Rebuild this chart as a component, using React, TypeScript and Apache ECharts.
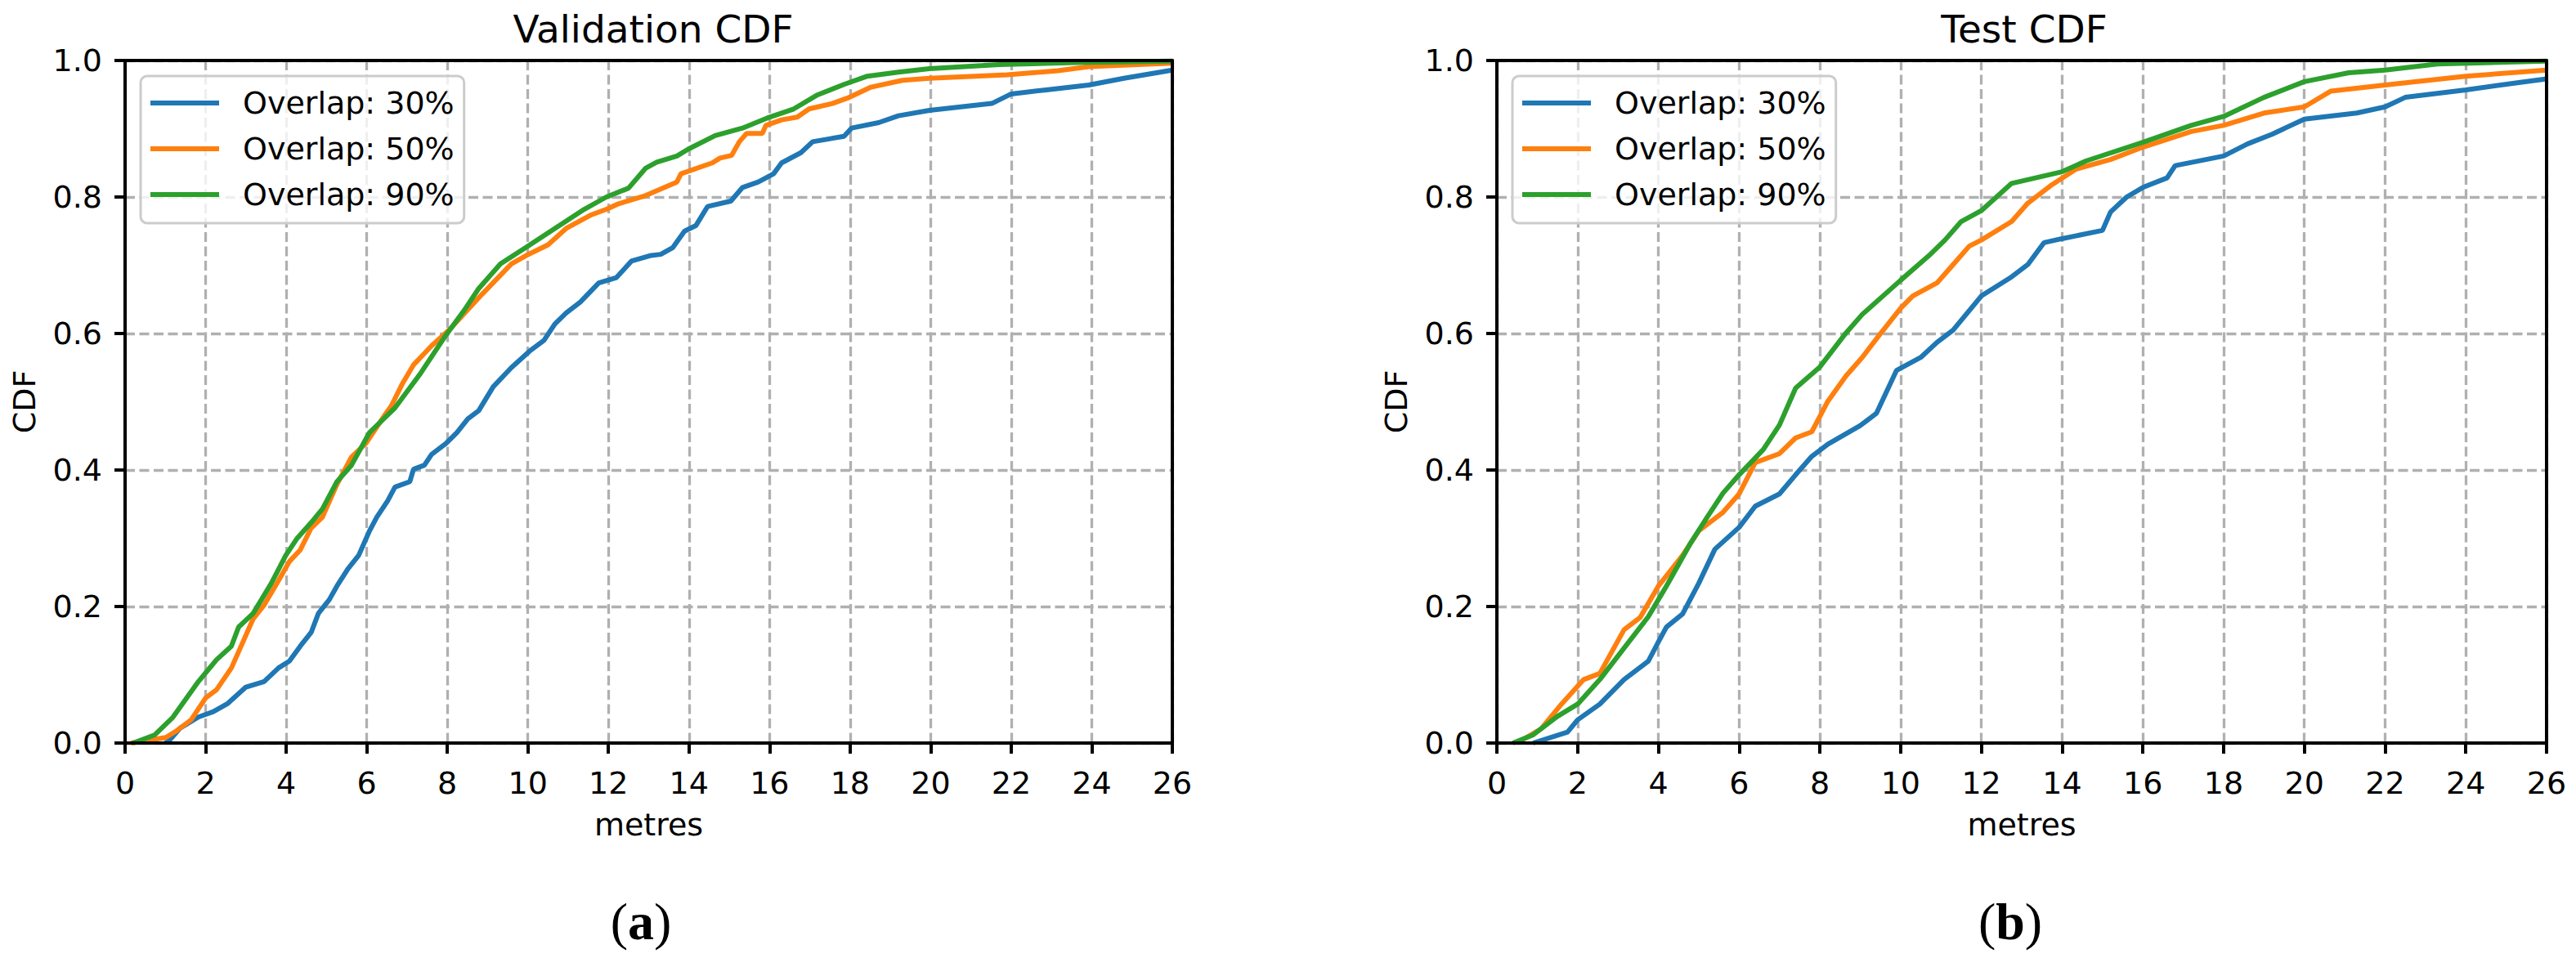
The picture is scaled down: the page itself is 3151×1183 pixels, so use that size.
import React, { useEffect, useRef } from "react";
import * as echarts from "echarts";

const seriesNames = ["Overlap: 30%", "Overlap: 50%", "Overlap: 90%"];
const seriesColors = ["#1f77b4", "#ff7f0e", "#2ca02c"];
const panelTitles = ["Validation CDF", "Test CDF"];
const panelCaptions = ["a", "b"];
const xTickMax = 26;
const xTickStep = 2;
const yTickStep = 0.2;

const val30: [number, number][] = [
  [1.0, 0], [1.1, 0.004], [1.37, 0.022], [1.82, 0.038], [2.19, 0.046], [2.55, 0.058], [3.0, 0.082],
  [3.45, 0.09], [3.81, 0.11], [4.08, 0.12], [4.35, 0.142], [4.62, 0.162], [4.8, 0.19], [5.07, 0.21],
  [5.26, 0.23], [5.53, 0.255], [5.8, 0.275], [6.07, 0.311], [6.25, 0.331], [6.52, 0.355], [6.7, 0.375],
  [7.07, 0.383], [7.16, 0.401], [7.43, 0.407], [7.61, 0.423], [7.97, 0.439], [8.24, 0.455], [8.51, 0.475],
  [8.78, 0.487], [9.14, 0.522], [9.59, 0.55], [10.04, 0.574], [10.4, 0.59], [10.67, 0.614], [10.95, 0.63],
  [11.3, 0.646], [11.76, 0.674], [12.2, 0.682], [12.57, 0.706], [13.03, 0.714], [13.3, 0.716], [13.6, 0.726],
  [13.89, 0.75], [14.17, 0.758], [14.46, 0.786], [15.04, 0.794], [15.33, 0.814], [15.72, 0.822], [16.1, 0.834],
  [16.3, 0.85], [16.78, 0.865], [17.07, 0.881], [17.85, 0.889], [18.04, 0.901], [18.71, 0.909], [19.2, 0.919],
  [19.97, 0.927], [21.52, 0.937], [22.0, 0.951], [22.87, 0.957], [23.93, 0.964], [24.8, 0.974], [26, 0.986],
];
const val50: [number, number][] = [
  [0.15, 0], [1.01, 0.008], [1.28, 0.018], [1.46, 0.026], [1.64, 0.034], [2.0, 0.066], [2.27, 0.078],
  [2.64, 0.11], [2.91, 0.146], [3.18, 0.182], [3.45, 0.202], [3.81, 0.238], [4.08, 0.266], [4.35, 0.283],
  [4.62, 0.315], [4.9, 0.331], [5.26, 0.379], [5.62, 0.419], [5.98, 0.439], [6.43, 0.479], [6.61, 0.494],
  [6.88, 0.526], [7.16, 0.554], [7.61, 0.582], [8.06, 0.606], [8.87, 0.658], [9.59, 0.702], [9.95, 0.714],
  [10.5, 0.73], [10.95, 0.754], [11.58, 0.774], [11.95, 0.782], [12.25, 0.79], [12.92, 0.802], [13.7, 0.822],
  [13.8, 0.834], [14.58, 0.85], [14.77, 0.857], [15.06, 0.861], [15.25, 0.881], [15.43, 0.893], [15.82, 0.893],
  [15.91, 0.905], [16.3, 0.913], [16.69, 0.917], [16.98, 0.929], [17.56, 0.937], [17.94, 0.945], [18.52, 0.961],
  [19.3, 0.971], [19.97, 0.974], [21.9, 0.979], [23.16, 0.985], [23.93, 0.991], [26, 0.996],
];
const val90: [number, number][] = [
  [0.2, 0], [0.74, 0.012], [1.19, 0.038], [1.82, 0.09], [2.27, 0.122], [2.64, 0.142], [2.82, 0.17],
  [3.18, 0.19], [3.63, 0.234], [3.99, 0.275], [4.26, 0.299], [4.62, 0.323], [4.9, 0.343], [5.26, 0.383],
  [5.62, 0.407], [6.07, 0.455], [6.7, 0.491], [7.34, 0.542], [7.97, 0.598], [8.42, 0.634], [8.78, 0.666],
  [9.32, 0.702], [9.95, 0.726], [10.67, 0.754], [11.4, 0.782], [11.95, 0.8], [12.5, 0.813], [12.92, 0.842],
  [13.2, 0.851], [13.7, 0.86], [13.98, 0.87], [14.65, 0.89], [15.33, 0.901], [16.0, 0.917], [16.6, 0.929],
  [17.17, 0.949], [17.85, 0.965], [18.43, 0.977], [19.2, 0.983], [19.97, 0.988], [21.7, 0.994], [23.65, 0.997],
  [26, 0.999],
];
const test30: [number, number][] = [
  [0.9, 0], [1.75, 0.016], [2.0, 0.034], [2.55, 0.057], [3.15, 0.093], [3.75, 0.12], [4.0, 0.148],
  [4.2, 0.17], [4.6, 0.189], [5.0, 0.234], [5.4, 0.284], [6.0, 0.316], [6.4, 0.347], [7.0, 0.365],
  [7.4, 0.393], [7.8, 0.42], [8.2, 0.438], [9.0, 0.465], [9.4, 0.483], [9.9, 0.546], [10.5, 0.565],
  [10.9, 0.587], [11.3, 0.605], [12.0, 0.655], [12.75, 0.683], [13.15, 0.701], [13.55, 0.733], [14.0, 0.739],
  [15.0, 0.751], [15.2, 0.778], [15.6, 0.8], [16.0, 0.814], [16.6, 0.828], [16.8, 0.846], [18.0, 0.86],
  [18.6, 0.878], [19.2, 0.892], [20.0, 0.914], [21.3, 0.923], [22.0, 0.932], [22.5, 0.946], [24.0, 0.957],
  [25.35, 0.968], [26, 0.973],
];
const test50: [number, number][] = [
  [0.5, 0], [1.1, 0.021], [1.6, 0.057], [2.15, 0.093], [2.55, 0.102], [3.15, 0.166], [3.55, 0.184],
  [4.0, 0.23], [4.6, 0.275], [5.0, 0.311], [5.6, 0.338], [6.0, 0.365], [6.4, 0.411], [7.0, 0.424],
  [7.4, 0.447], [7.8, 0.456], [8.2, 0.501], [8.65, 0.538], [9.05, 0.565], [9.45, 0.596], [10.0, 0.637],
  [10.3, 0.655], [10.9, 0.674], [11.3, 0.701], [11.7, 0.728], [12.0, 0.737], [12.75, 0.764], [13.15, 0.791],
  [13.75, 0.818], [14.35, 0.841], [15.2, 0.855], [16.0, 0.873], [17.2, 0.896], [18.0, 0.905], [19.0, 0.923],
  [20.0, 0.932], [20.65, 0.955], [22.0, 0.964], [24.0, 0.977], [26, 0.986],
];
const test90: [number, number][] = [
  [0.4, 0], [0.9, 0.012], [1.5, 0.039], [2.0, 0.057], [2.55, 0.093], [3.15, 0.139], [3.75, 0.185],
  [4.2, 0.23], [4.8, 0.293], [5.2, 0.33], [5.6, 0.366], [6.0, 0.393], [6.6, 0.43], [7.0, 0.466],
  [7.4, 0.52], [8.0, 0.551], [8.65, 0.601], [9.05, 0.628], [10.0, 0.678], [10.7, 0.714], [11.1, 0.737],
  [11.5, 0.764], [12.0, 0.78], [12.75, 0.82], [14.0, 0.837], [14.6, 0.853], [16.0, 0.88], [17.2, 0.905],
  [18.0, 0.918], [19.0, 0.946], [20.0, 0.969], [21.1, 0.982], [22.0, 0.986], [23.3, 0.995], [26, 0.999],
];

const panelData = [
  [val30, val50, val90],
  [test30, test50, test90],
];

const FONT = "DejaVu Sans";
const W = 3151;
const H = 1183;
const GRIDS = [
  { left: 153, top: 74, width: 1281, height: 835 },
  { left: 1831, top: 74, width: 1284, height: 835 },
];
const TITLE_X = [799, 2476];
const CAPTION_X = [784, 2459];

export default function App() {
  const ref = useRef<HTMLDivElement>(null);
  useEffect(() => {
    document.body.style.margin = "0";
    if (!ref.current) return;
    const chart = echarts.init(ref.current, null, { renderer: "svg" });
    const spine = { color: "#000", width: 4 };
    const gridLine = { show: true, lineStyle: { color: "#b0b0b0", width: 3.3, type: [12, 5.5] } };
    const xAxis: any[] = [];
    const yAxis: any[] = [];
    const series: any[] = [];
    const legend: any[] = [];
    GRIDS.forEach((g, gi) => {
      const base = gi * 3;
      xAxis.push(
        { gridIndex: gi, type: "value", min: 0, max: xTickMax, interval: xTickStep, position: "bottom",
          axisLine: { show: false }, axisTick: { show: false }, axisLabel: { show: false }, splitLine: gridLine, z: 0 },
        { gridIndex: gi, type: "value", min: 0, max: xTickMax, interval: xTickStep, position: "bottom",
          axisLine: { show: true, onZero: false, lineStyle: spine },
          axisTick: { show: true, length: 13, lineStyle: spine },
          axisLabel: { show: true, fontSize: 38, color: "#000", fontFamily: FONT, margin: 30 },
          splitLine: { show: false }, name: "metres", nameLocation: "middle", nameGap: 81,
          nameTextStyle: { fontSize: 38, color: "#000", fontFamily: FONT }, z: 5 },
        { gridIndex: gi, type: "value", min: 0, max: xTickMax, interval: xTickStep, position: "top",
          axisLine: { show: true, onZero: false, lineStyle: spine }, axisTick: { show: false },
          axisLabel: { show: false }, splitLine: { show: false }, z: 5 }
      );
      yAxis.push(
        { gridIndex: gi, type: "value", min: 0, max: 1, interval: yTickStep, position: "left",
          axisLine: { show: false }, axisTick: { show: false }, axisLabel: { show: false }, splitLine: gridLine, z: 0 },
        { gridIndex: gi, type: "value", min: 0, max: 1, interval: yTickStep, position: "left",
          axisLine: { show: true, onZero: false, lineStyle: spine },
          axisTick: { show: true, length: 13, lineStyle: spine },
          axisLabel: { show: true, fontSize: 38, color: "#000", fontFamily: FONT, margin: 28,
            formatter: (v: number) => v.toFixed(1) },
          splitLine: { show: false }, name: "CDF", nameLocation: "middle", nameGap: 104,
          nameTextStyle: { fontSize: 38, color: "#000", fontFamily: FONT }, z: 5 },
        { gridIndex: gi, type: "value", min: 0, max: 1, interval: yTickStep, position: "right",
          axisLine: { show: true, onZero: false, lineStyle: spine }, axisTick: { show: false },
          axisLabel: { show: false }, splitLine: { show: false }, z: 5 }
      );
      panelData[gi].forEach((d, si) => {
        series.push({
          type: "line", name: seriesNames[si], data: d, xAxisIndex: base, yAxisIndex: base,
          showSymbol: false, symbol: "none", color: seriesColors[si],
          lineStyle: { width: 6, color: seriesColors[si] }, z: 3,
        });
      });
      legend.push({
        data: seriesNames.map((n) => ({ name: n, icon: "rect" })), orient: "vertical", left: g.left + 19, top: 93,
        itemWidth: 84, itemHeight: 6, itemGap: 18,
        padding: [14, 12, 16, 12],
        backgroundColor: "rgba(255,255,255,0.8)", borderColor: "#cccccc", borderWidth: 3, borderRadius: 8,
        textStyle: { fontSize: 38, color: "#000", fontFamily: FONT, padding: [0, 0, 0, 24] },
        selectedMode: false,
      });
    });
    const graphic: any[] = [];
    panelTitles.forEach((t, i) => {
      graphic.push({ type: "text", x: TITLE_X[i], y: 35,
        style: { text: t, fontSize: 47, fontFamily: FONT, fill: "#000", align: "center", verticalAlign: "middle" } });
    });
    panelCaptions.forEach((c, i) => {
      graphic.push({ type: "text", x: CAPTION_X[i], y: 1127,
        style: { text: "{p|(}{b|" + c + "}{p|)}", align: "center", verticalAlign: "middle", fill: "#000",
          rich: {
            p: { fontSize: 64, fontFamily: "Liberation Serif", fill: "#000" },
            b: { fontSize: 64, fontFamily: "Liberation Serif", fontWeight: "bold", fill: "#000" },
          } } });
    });
    chart.setOption({
      animation: false,
      backgroundColor: "#fff",
      grid: GRIDS.map((g) => ({ ...g, containLabel: false })),
      xAxis, yAxis, series, legend, graphic,
    });
    return () => chart.dispose();
  }, []);
  return <div ref={ref} style={{ width: W, height: H }} />;
}
